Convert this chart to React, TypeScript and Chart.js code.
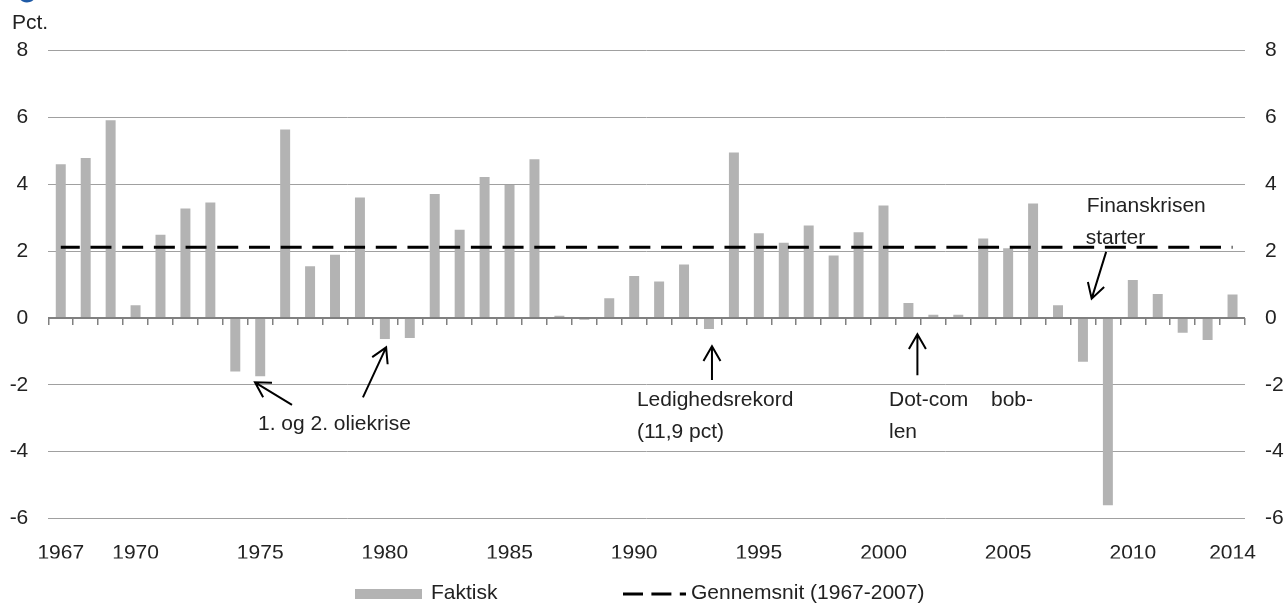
import React, { useEffect, useRef } from 'react';
import { Chart, registerables } from 'chart.js';

Chart.register(...registerables);

const years = [
  '1967', '1968', '1969', '1970', '1971', '1972', '1973', '1974', '1975', '1976',
  '1977', '1978', '1979', '1980', '1981', '1982', '1983', '1984', '1985', '1986',
  '1987', '1988', '1989', '1990', '1991', '1992', '1993', '1994', '1995', '1996',
  '1997', '1998', '1999', '2000', '2001', '2002', '2003', '2004', '2005', '2006',
  '2007', '2008', '2009', '2010', '2011', '2012', '2013', '2014',
];

const faktisk = [
  4.60, 4.79, 5.92, 0.38, 2.49, 3.28, 3.46, -1.60, -1.74, 5.64,
  1.55, 1.89, 3.61, -0.63, -0.60, 3.71, 2.64, 4.22, 3.98, 4.75,
  0.07, -0.05, 0.59, 1.26, 1.09, 1.60, -0.33, 4.95, 2.54, 2.25,
  2.77, 1.87, 2.57, 3.37, 0.45, 0.10, 0.10, 2.38, 2.09, 3.43,
  0.38, -1.31, -5.60, 1.14, 0.72, -0.44, -0.66, 0.70,
];

const gennemsnit = [
  2.12, 2.12, 2.12, 2.12, 2.12, 2.12, 2.12, 2.12, 2.12, 2.12,
  2.12, 2.12, 2.12, 2.12, 2.12, 2.12, 2.12, 2.12, 2.12, 2.12,
  2.12, 2.12, 2.12, 2.12, 2.12, 2.12, 2.12, 2.12, 2.12, 2.12,
  2.12, 2.12, 2.12, 2.12, 2.12, 2.12, 2.12, 2.12, 2.12, 2.12,
  2.12, 2.12, 2.12, 2.12, 2.12, 2.12, 2.12, 2.12,
];

const xTickLabels = ['1967', '1970', '1975', '1980', '1985', '1990', '1995', '2000', '2005', '2010', '2014'];

const yMin = -6;
const yMax = 8;
const yStep = 2;

// Annotation texts anchored in data space: x = category index, y = value
const noteTexts = [
  { text: '1. og 2. oliekrise', x: 7.91, y: -3.185 },
  { text: 'Ledighedsrekord', x: 23.11, y: -2.466 },
  { text: '(11,9 pct)', x: 23.11, y: -3.41 },
  { text: 'Dot-com', x: 33.22, y: -2.466 },
  { text: 'bob-', x: 37.31, y: -2.466 },
  { text: 'len', x: 33.22, y: -3.41 },
  { text: 'Finanskrisen', x: 41.15, y: 3.35 },
  { text: 'starter', x: 41.11, y: 2.38 },
];

const noteArrows = [
  { fromX: 9.275, fromY: -2.6, toX: 7.79, toY: -1.925 },
  { fromX: 12.12, fromY: -2.375, toX: 13.05, toY: -0.878 },
  { fromX: 26.12, fromY: -1.855, toX: 26.12, toY: -0.848 },
  { fromX: 34.36, fromY: -1.716, toX: 34.36, toY: -0.488 },
  { fromX: 41.93, fromY: 1.98, toX: 41.35, toY: 0.58 },
];

const legendLabels = ['Faktisk', 'Gennemsnit (1967-2007)'];

const FONT = '"Liberation Sans", Arial, sans-serif';
const TEXT_COLOR = '#222222';
const BAR_COLOR = '#b3b3b3';
const GRID_COLOR = '#a0a0a0';
const ZERO_COLOR = '#808080';

const decorPlugin = {
  id: 'decor',
  afterDatasetsDraw(chart: any) {
    const ctx = chart.ctx as CanvasRenderingContext2D;
    const xs = chart.scales.x;
    const ys = chart.scales.y;
    ctx.save();
    ctx.font = `21px ${FONT}`;
    ctx.fillStyle = TEXT_COLOR;
    ctx.textAlign = 'left';
    ctx.textBaseline = 'middle';
    noteTexts.forEach((n) => {
      ctx.fillText(n.text, xs.getPixelForValue(n.x), ys.getPixelForValue(n.y));
    });
    ctx.strokeStyle = '#000';
    ctx.lineWidth = 2;
    ctx.setLineDash([]);
    noteArrows.forEach((a) => {
      const x1 = xs.getPixelForValue(a.fromX);
      const y1 = ys.getPixelForValue(a.fromY);
      const x2 = xs.getPixelForValue(a.toX);
      const y2 = ys.getPixelForValue(a.toY);
      const ang = Math.atan2(y1 - y2, x1 - x2);
      const len = 17;
      const spread = Math.PI / 6;
      ctx.beginPath();
      ctx.moveTo(x1, y1);
      ctx.lineTo(x2, y2);
      ctx.moveTo(x2 + len * Math.cos(ang + spread), y2 + len * Math.sin(ang + spread));
      ctx.lineTo(x2, y2);
      ctx.lineTo(x2 + len * Math.cos(ang - spread), y2 + len * Math.sin(ang - spread));
      ctx.stroke();
    });
    ctx.restore();
  },
  afterDraw(chart: any) {
    const ctx = chart.ctx as CanvasRenderingContext2D;
    ctx.save();
    // cropped logo fragment at top-left
    ctx.strokeStyle = '#1f5aa6';
    ctx.lineWidth = 3;
    ctx.beginPath();
    ctx.arc(27, -7, 8, 0.15 * Math.PI, 0.85 * Math.PI);
    ctx.stroke();

    ctx.font = `21px ${FONT}`;
    ctx.fillStyle = TEXT_COLOR;
    ctx.textAlign = 'left';
    ctx.textBaseline = 'middle';
    ctx.fillText('Pct.', 12, 23);

    // legend
    ctx.fillStyle = BAR_COLOR;
    ctx.fillRect(355, 589, 67, 10);
    ctx.fillStyle = TEXT_COLOR;
    ctx.fillText(legendLabels[0], 431, 593.5);
    ctx.strokeStyle = '#000';
    ctx.lineWidth = 3;
    ctx.setLineDash([20, 8.4]);
    ctx.beginPath();
    ctx.moveTo(623, 594);
    ctx.lineTo(686, 594);
    ctx.stroke();
    ctx.setLineDash([]);
    ctx.fillText(legendLabels[1], 691, 593.5);
    ctx.restore();
  },
};

export default function App() {
  const canvasRef = useRef<HTMLCanvasElement | null>(null);

  useEffect(() => {
    document.body.style.margin = '0';
    const canvas = canvasRef.current;
    if (!canvas) return;
    const chart = new Chart(canvas, {
      type: 'bar',
      data: {
        labels: years,
        datasets: [
          {
            type: 'line',
            label: legendLabels[1],
            data: gennemsnit,
            borderColor: '#000',
            borderWidth: 3,
            borderDash: [21, 10.7],
            borderDashOffset: 2,
            pointRadius: 0,
            fill: false,
            order: 0,
            xAxisID: 'x',
            yAxisID: 'y',
          } as any,
          {
            type: 'bar',
            label: legendLabels[0],
            data: faktisk,
            backgroundColor: BAR_COLOR,
            borderWidth: 0,
            categoryPercentage: 1,
            barPercentage: 0.4,
            order: 1,
            xAxisID: 'x',
            yAxisID: 'y',
          },
        ],
      },
      options: {
        responsive: false,
        animation: false,
        devicePixelRatio: 1,
        layout: { padding: { top: 50.7, bottom: 44.5, left: 0, right: 0 } },
        plugins: {
          legend: { display: false },
          tooltip: { enabled: false },
          title: { display: false },
        },
        scales: {
          x: {
            type: 'category',
            position: 'bottom',
            offset: true,
            grid: { display: false },
            border: { display: false },
            ticks: {
              autoSkip: false,
              maxRotation: 0,
              minRotation: 0,
              padding: 14,
              color: TEXT_COLOR,
              font: { family: FONT, size: 21 },
              callback: (_v: any, i: number) => (xTickLabels.includes(years[i]) ? years[i] : ''),
            },
            afterFit: (s: any) => {
              s.height = 40;
            },
          },
          xTicks: {
            type: 'category',
            axis: 'x',
            position: { y: 0 },
            offset: true,
            grid: {
              display: true,
              drawOnChartArea: false,
              drawTicks: true,
              tickLength: 7,
              offset: true,
              color: ZERO_COLOR,
              lineWidth: 1.5,
            },
            border: { display: false },
            ticks: { display: false },
          } as any,
          y: {
            type: 'linear',
            position: 'left',
            min: yMin,
            max: yMax,
            grid: {
              drawTicks: false,
              color: (c: any) => (c.tick && c.tick.value === 0 ? ZERO_COLOR : GRID_COLOR),
              lineWidth: (c: any) => (c.tick && c.tick.value === 0 ? 2 : 1),
            },
            border: { display: false },
            ticks: {
              stepSize: yStep,
              padding: 20,
              color: TEXT_COLOR,
              font: { family: FONT, size: 21 },
            },
            afterFit: (s: any) => {
              s.width = 48.3;
            },
          },
          y2: {
            type: 'linear',
            position: 'right',
            min: yMin,
            max: yMax,
            grid: { drawOnChartArea: false, drawTicks: false },
            border: { display: false },
            ticks: {
              stepSize: yStep,
              padding: 20,
              color: TEXT_COLOR,
              font: { family: FONT, size: 21 },
            },
            afterFit: (s: any) => {
              s.width = 42;
            },
          },
        },
      },
      plugins: [decorPlugin],
    });
    return () => {
      chart.destroy();
    };
  }, []);

  return (
    <div style={{ width: 1287, height: 603 }}>
      <canvas ref={canvasRef} width={1287} height={603} style={{ display: 'block' }} />
    </div>
  );
}
